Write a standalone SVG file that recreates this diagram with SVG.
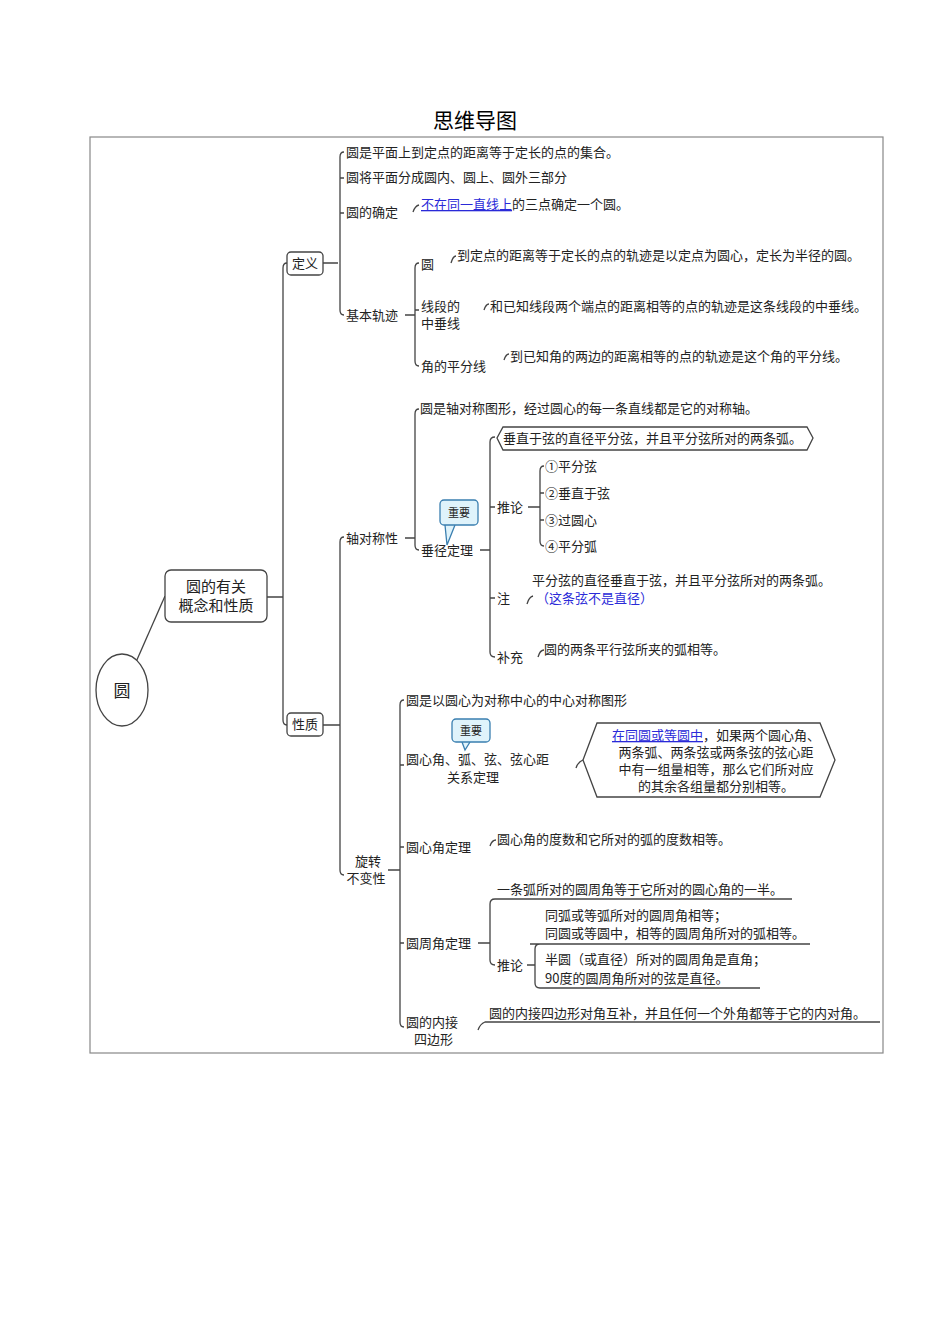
<svg xmlns="http://www.w3.org/2000/svg" width="950" height="1344" viewBox="0 0 950 1344">
<style>
text{font-family:"Noto Sans CJK SC",sans-serif;font-size:13px;fill:#222}
.t{font-size:21px;fill:#000}
.b{fill:#2a2ad8}
.u{fill:#2a2ad8;text-decoration:underline}
.c{stroke:#444;stroke-width:1.3;fill:none}
.box{fill:#fff;stroke:#444;stroke-width:1.3}
.call{fill:#dff3fb;stroke:#3a7fb0;stroke-width:1.3}
.m{text-anchor:middle}
</style>
<rect width="950" height="1344" fill="#fff"/>
<text class="t m" x="475" y="128">思维导图</text>
<rect x="90" y="137" width="793" height="916" fill="none" stroke="#888" stroke-width="1.2"/>
<g id="connectors" class="c">
<path d="M136,662 L165,596"/>
<path d="M267,597 H283 M283,597 V268 Q283,263 287,263 M283,597 V720 Q283,725 287,725"/>
<path d="M323,263 H338 M340,263 V157 Q340,152 344,152 M340,178 H344 M340,213 H344 M340,263 V310 Q340,315 344,315"/>
<path d="M413,212 Q415,206 419,205"/>
<path d="M405,315 H415 M415,315 V268 Q415,263 419,263 M415,310 H419 M415,315 V361 Q415,366 419,366"/>
<path d="M451,263 Q453,256 456,256 M484,310 Q486,304 489,304 M504,360 Q506,354 509,354"/>
<path d="M323,725 H340 M340,725 V542 Q340,537 344,537 M340,725 V870 Q340,875 344,875"/>
<path d="M405,538 H415 M415,538 V414 Q415,409 419,409 M415,538 V545 Q415,550 419,550"/>
<path d="M480,550 H490 M490,550 V442 Q490,437 495,437 M490,507 H495 M490,598 H495 M490,550 V652 Q490,657 495,657"/>
<path d="M528,507 H540 M540,507 V471 Q540,466 544,466 M540,493 H544 M540,520 H544 M540,507 V541 Q540,546 544,546"/>
<path d="M527,604 Q529,597 533,596 M538,657 Q540,650 544,650"/>
<path d="M388,870 H400 M400,870 V705 Q400,700 404,700 M400,765 H404 M400,847 H404 M400,943 H404 M400,870 V1022 Q400,1027 404,1027"/>
<path d="M576,768 Q578,762 583,760 M490,846 Q492,840 496,840"/>
<path d="M478,943 H490 M490,943 V904 Q490,899 495,899 H792 M490,943 V960 Q490,965 495,965"/>
<path d="M527,965 H535 M530,944 H810 M535,965 V949 Q535,944 540,944 M535,965 V983 Q535,988 540,988 H760"/>
<path d="M478,1030 Q480,1024 485,1022 H880"/>
</g>
<g id="root"><ellipse cx="122" cy="690" rx="26" ry="36" class="box"/><text x="122" y="697" class="m" style="font-size:17px">圆</text></g>
<g id="main"><rect x="165" y="570" width="102" height="52" rx="6" class="box"/><text x="216" y="592" class="m" style="font-size:15px">圆的有关</text><text x="216" y="611" class="m" style="font-size:15px">概念和性质</text></g>
<g id="dingyi"><rect x="287" y="252" width="36" height="23" rx="4" class="box"/><text x="305" y="268" class="m">定义</text></g>
<g id="xingzhi"><rect x="287" y="713" width="36" height="23" rx="4" class="box"/><text x="305" y="729" class="m">性质</text></g>
<g id="d1"><text x="346" y="157">圆是平面上到定点的距离等于定长的点的集合。</text></g>
<g id="d2"><text x="346" y="182">圆将平面分成圆内、圆上、圆外三部分</text></g>
<g id="d3"><text x="346" y="217">圆的确定</text><text x="421" y="209"><tspan class="u">不在同一直线上</tspan>的三点确定一个圆。</text></g>
<g id="d4"><text x="346" y="320">基本轨迹</text></g>
<g id="g1"><text x="421" y="269">圆</text><text x="457" y="260">到定点的距离等于定长的点的轨迹是以定点为圆心，定长为半径的圆。</text></g>
<g id="g2"><text x="421" y="311">线段的</text><text x="421" y="328">中垂线</text><text x="490" y="311">和已知线段两个端点的距离相等的点的轨迹是这条线段的中垂线。</text></g>
<g id="g3"><text x="421" y="371">角的平分线</text><text x="510" y="361">到已知角的两边的距离相等的点的轨迹是这个角的平分线。</text></g>
<g id="zhou"><text x="346" y="543">轴对称性</text></g>
<g id="z1"><text x="420" y="413">圆是轴对称图形，经过圆心的每一条直线都是它的对称轴。</text></g>
<g id="chuijing"><text x="421" y="555">垂径定理</text><path d="M445,525 L447,545 L455,525" class="call"/><rect x="440" y="500" width="38" height="25" rx="4" class="call"/><text x="459" y="517" class="m" style="font-size:11px">重要</text></g>
<g id="cj1"><path d="M503,427 H807 L813,438 L807,450 H503 L497,438 Z" class="box"/><text x="503" y="443">垂直于弦的直径平分弦，并且平分弦所对的两条弧。</text></g>
<g id="tuilun1"><text x="497" y="512">推论</text><text x="545" y="471">①平分弦</text><text x="545" y="498">②垂直于弦</text><text x="545" y="525">③过圆心</text><text x="545" y="551">④平分弧</text></g>
<g id="zhu"><text x="497" y="603">注</text><text x="532" y="585">平分弦的直径垂直于弦，并且平分弦所对的两条弧。</text><text x="536" y="603" class="b">（这条弦不是直径）</text></g>
<g id="buchong"><text x="497" y="662">补充</text><text x="544" y="654">圆的两条平行弦所夹的弧相等。</text></g>
<g id="xuanzhuan"><text x="368" y="866" class="m">旋转</text><text x="366" y="883" class="m">不变性</text></g>
<g id="x1"><text x="406" y="705">圆是以圆心为对称中心的中心对称图形</text></g>
<g id="x2"><text x="406" y="764">圆心角、弧、弦、弦心距</text><text x="447" y="782">关系定理</text><path d="M462,742 L465,750 L470,742" class="call"/><rect x="452" y="719" width="38" height="23" rx="4" class="call"/><text x="471" y="735" class="m" style="font-size:11px">重要</text>
<path d="M597,723 H820 L835,760 L820,797 H597 L583,760 Z" class="box"/>
<text x="716" y="740" class="m"><tspan class="u">在同圆或等圆中</tspan>，如果两个圆心角、</text><text x="716" y="757" class="m">两条弧、两条弦或两条弦的弦心距</text><text x="716" y="774" class="m">中有一组量相等，那么它们所对应</text><text x="716" y="791" class="m">的其余各组量都分别相等。</text></g>
<g id="x3"><text x="406" y="852">圆心角定理</text><text x="497" y="844">圆心角的度数和它所对的弧的度数相等。</text></g>
<g id="x4"><text x="406" y="948">圆周角定理</text><text x="497" y="894">一条弧所对的圆周角等于它所对的圆心角的一半。</text><text x="497" y="970">推论</text><text x="545" y="920">同弧或等弧所对的圆周角相等；</text><text x="545" y="938">同圆或等圆中，相等的圆周角所对的弧相等。</text><text x="545" y="964">半圆（或直径）所对的圆周角是直角；</text><text x="545" y="983">90度的圆周角所对的弦是直径。</text></g>
<g id="x5"><text x="406" y="1027">圆的内接</text><text x="414" y="1044">四边形</text><text x="489" y="1018">圆的内接四边形对角互补，并且任何一个外角都等于它的内对角。</text></g>
</svg>
